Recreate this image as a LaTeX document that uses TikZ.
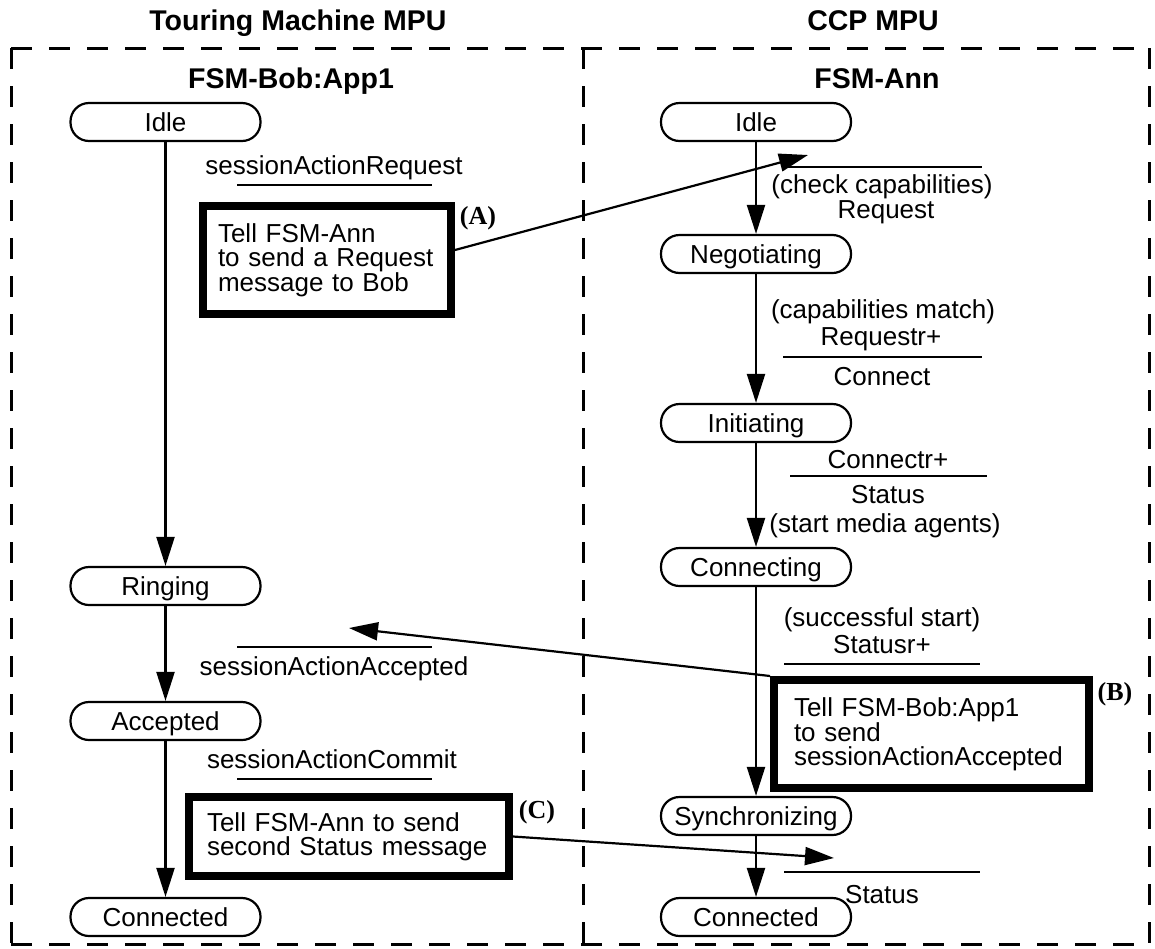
\documentclass[tikz,border=0pt]{standalone}
\usepackage{fontspec}
\setmainfont{Liberation Sans}
\newfontfamily\tagfont{Liberation Serif}
\usetikzlibrary{arrows.meta}
\begin{document}
\begin{tikzpicture}[x=1pt,y=-1pt,
  txt/.style={font=\fontsize{26}{24}\selectfont, anchor=base, inner sep=0pt},
  head/.style={font=\fontsize{28.5}{30}\selectfont\bfseries, anchor=base, inner sep=0pt},
  tag/.style={font=\fontsize{26}{26}\selectfont\tagfont\bfseries, inner sep=0pt},
  state/.style={draw, line width=2.2pt, rounded corners=18.5pt, minimum width=190pt,
    minimum height=38pt, inner sep=0pt, text height=19pt, text depth=0pt,
    font=\fontsize{26}{24}\selectfont},
  action/.style={draw, line width=8pt, align=left, inner ysep=0pt,
    font=\fontsize{26}{24}\selectfont},
  frame/.style={line width=3pt, dash pattern=on 21pt off 17pt},
  bar/.style={line width=2pt},
  flow/.style={line width=2.2pt, -{Triangle[length=29pt,width=18pt]}},
]
\useasboundingbox[fill=white] (0,0) rectangle (1155,948);

% processor frames
\draw[frame] (11,48) -- (1149,48);
\draw[frame] (11,48) -- (11,944);
\draw[frame] (1149,48) -- (1149,944);
\draw[frame] (11,944) -- (1149,944);
\draw[frame] (583,48) -- (583,944);

% headings
\node[head] (hTM)  at (298,30) {Touring Machine MPU};
\node[head] (hCCP) at (873,30) {CCP MPU};
\node[head] (hBob) at (291,88) {FSM-Bob:App1};
\node[head] (hAnn) at (877,88) {FSM-Ann};

% FSM-Bob:App1 states
\node[state] (bIdle) at (165.5,122) {Idle};
\node[state] (bRing) at (165.5,586) {Ringing};
\node[state] (bAcc)  at (165.5,721) {Accepted};
\node[state] (bConn) at (165.5,917) {Connected};

% FSM-Ann states
\node[state] (aIdle) at (756,122) {Idle};
\node[state] (aNeg)  at (756,254) {Negotiating};
\node[state] (aIni)  at (756,423) {Initiating};
\node[state] (aCon)  at (756,567) {Connecting};
\node[state] (aSyn)  at (756,816) {Synchronizing};
\node[state] (aConn) at (756,917) {Connected};

% transitions
\draw[flow] (bIdle) -- (bRing);
\draw[flow] (bRing) -- (bAcc);
\draw[flow] (bAcc) -- (bConn);
\draw[flow] (aIdle) -- (aNeg);
\draw[flow] (aNeg) -- (aIni);
\draw[flow] (aIni) -- (aCon);
\draw[flow] (aCon) -- (aSyn);
\draw[flow] (aSyn) -- (aConn);

% transition labels, FSM-Bob:App1
\node[txt] (lReq) at (334,174) {sessionActionRequest};
\draw[bar] (237,185) -- (432,185);
\draw[bar] (237,647) -- (432,647);
\node[txt] (lAcc) at (334,675) {sessionActionAccepted};
\node[txt] (lCom) at (332,768) {sessionActionCommit};
\draw[bar] (237,779) -- (432,779);

% transition labels, FSM-Ann
\draw[bar] (783,167) -- (982,167);
\node[txt] (lChk) at (882,193) {(check capabilities)};
\node[txt] (lRq)  at (886,218) {Request};
\node[txt] (lMat) at (883,318) {(capabilities match)};
\node[txt] (lRqr) at (881,345) {Requestr+};
\draw[bar] (783,357) -- (982,357);
\node[txt] (lCn)  at (882,385) {Connect};
\node[txt] (lCnr) at (888,468) {Connectr+};
\draw[bar] (790,476) -- (987,476);
\node[txt] (lSt)  at (888,503) {Status};
\node[txt] (lMed) at (885,532) {(start media agents)};
\node[txt] (lSuc) at (882,626) {(successful start)};
\node[txt] (lStr) at (882,653) {Statusr+};
\draw[bar] (784,664) -- (980,664);
\draw[bar] (784,872) -- (980,872);
\node[txt] (lSt2) at (882,903) {Status};

% actions
\node[action, minimum width=248pt, minimum height=108pt, text width=218pt,
  inner xsep=15pt] (boxA) at (327,260)
  {Tell FSM-Ann\\to send a Request\\message to Bob};
\node[action, minimum width=315pt, minimum height=108pt, text width=275pt,
  inner xsep=20pt] (boxB) at (931.5,734)
  {Tell FSM-Bob:App1\\to send\\sessionActionAccepted};
\node[action, minimum width=320pt, minimum height=79pt, text width=284pt,
  inner xsep=18pt] (boxC) at (349,836.5)
  {Tell FSM-Ann to send\\second Status message};

\node[tag] (tA) at (478,218) {(A)};
\node[tag] (tB) at (1115,694) {(B)};
\node[tag] (tC) at (537,812) {(C)};

% messages between the machines
\coordinate (tipA) at (808,155);
\coordinate (tipB) at (349,628);
\coordinate (tipC) at (834,858);
\draw[flow] ([yshift=10pt]boxA.east) -- (tipA);
\draw[flow] (boxB.north west) -- (tipB);
\draw[flow] (boxC.east) -- (tipC);
\end{tikzpicture}
\end{document}
